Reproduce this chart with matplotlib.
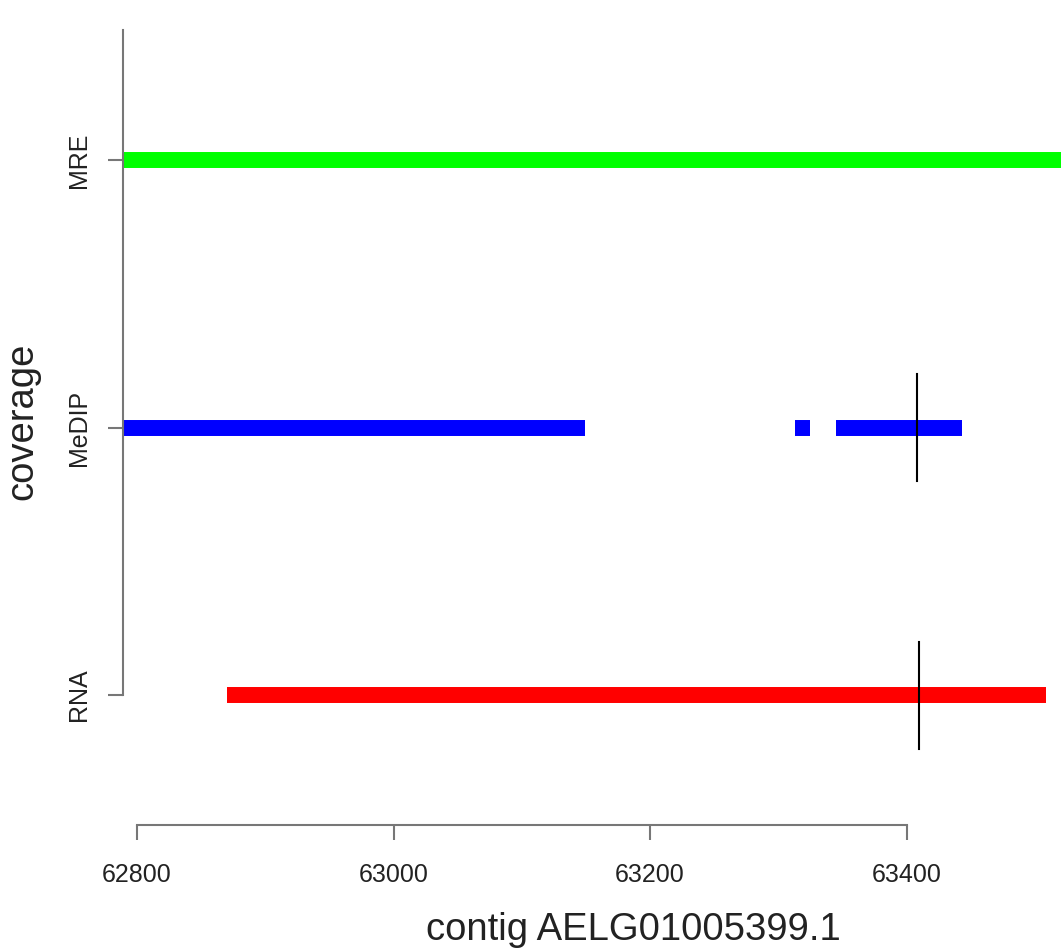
import matplotlib
matplotlib.use('Agg')
import matplotlib.pyplot as plt

plt.rcParams['font.family'] = ['Liberation Sans', 'DejaVu Sans']

# tracks on the y axis (bottom to top)
tracks = ['RNA', 'MeDIP', 'MRE']
track_pos = [1, 2, 3]

# covered intervals per track (contig coordinates)
mre_segments = [(62789, 63540)]
medip_segments = [(62789, 63149), (63313, 63325), (63345, 63443)]
rna_segments = [(62870, 63509)]
segments = [rna_segments, medip_segments, mre_segments]
colors = ['#ff0000', '#0000ff', '#00ff00']

# marker positions (vertical black lines) per track
markers = {'MeDIP': 63408, 'RNA': 63410}

xticks = [62800, 63000, 63200, 63400]

fig = plt.figure(figsize=(10.61, 9.5), dpi=100)
ax = fig.add_axes([0, 0, 1, 1])

# pixel scale: 200 units = 256.5 px, 1 track = 267.5 px
xs = 256.5 / 200
ys = 267.5
ax.set_xlim(62800 - 137 / xs, 62800 + (1061 - 137) / xs)
ax.set_ylim(1 - 255 / ys, 3 + 160 / ys)

for pos, segs, c in zip(track_pos, segments, colors):
    for a, b in segs:
        ax.plot([a, b], [pos, pos], color=c, lw=11.5, solid_capstyle='butt')

for name, x in markers.items():
    pos = track_pos[tracks.index(name)]
    ax.plot([x, x], [pos - 0.2, pos + 0.2], color='black', lw=1.5)

axis_col = '#777777'
for s in ['top', 'right']:
    ax.spines[s].set_visible(False)
ax.spines['left'].set_position(('data', 62800 - 14 / xs))
ax.spines['left'].set_bounds(1, 3 + 130 / ys)
ax.spines['bottom'].set_position(('data', 1 - 130 / ys))
ax.spines['bottom'].set_bounds(xticks[0], xticks[-1])
for s in ['left', 'bottom']:
    ax.spines[s].set_color(axis_col)
    ax.spines[s].set_linewidth(1.5)

ax.set_yticks(track_pos)
ax.set_yticklabels(tracks, rotation=90, va='center', fontsize=18)
ax.set_xticks(xticks)
ax.set_xticklabels([str(t) for t in xticks], fontsize=18)
ax.tick_params(axis='both', colors=axis_col, length=11, width=1.5, labelcolor='#222222')
ax.tick_params(axis='y', pad=12)
ax.tick_params(axis='x', pad=16)

fig.text(22 / 1061, 1 - 421 / 950, 'coverage', rotation=90, ha='center', va='center',
         fontsize=27.5, color='#222222')
fig.text(633 / 1061, 1 - 930 / 950, 'contig AELG01005399.1', ha='center', va='center',
         fontsize=27.5, color='#222222')

fig.savefig('out.png', dpi=100)
